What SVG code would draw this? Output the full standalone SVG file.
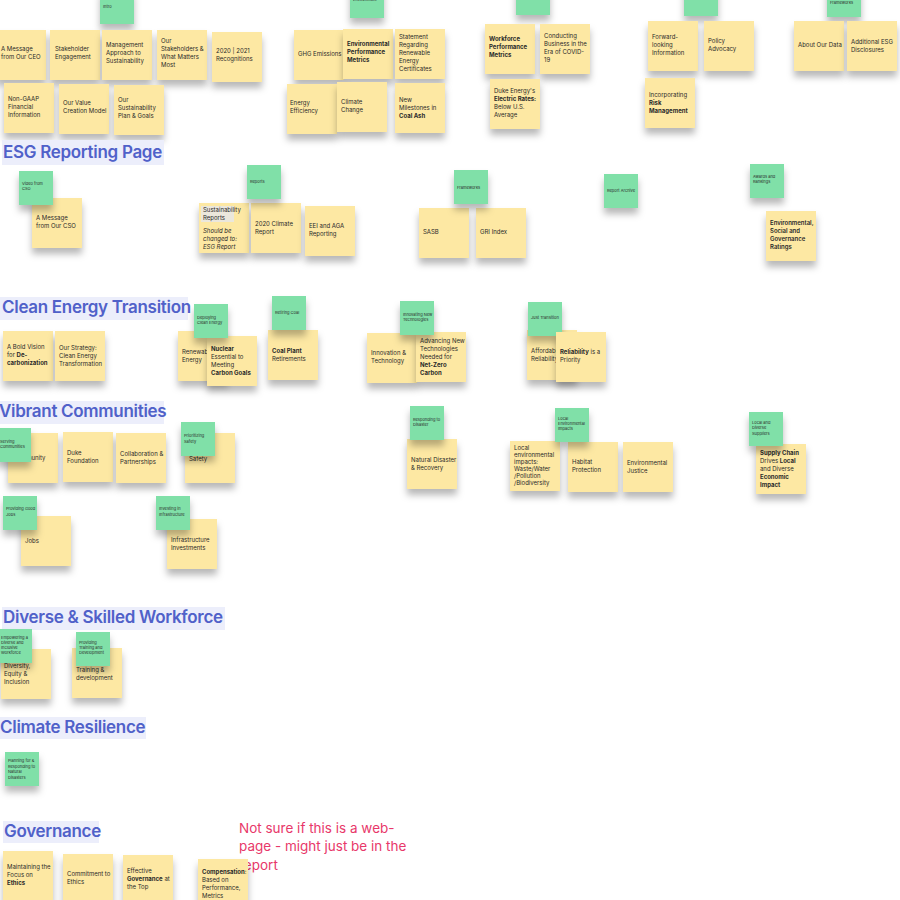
<svg xmlns="http://www.w3.org/2000/svg" width="900" height="900" viewBox="0 0 900 900">
<style>
.y{fill:#fde8a3;filter:url(#sh)}
.g{fill:#80e0a8;filter:url(#sh)}
.t{font-family:Inter,"Liberation Sans",sans-serif;font-size:6px;fill:#2a2a2a}
.s{font-family:Inter,"Liberation Sans",sans-serif;font-size:4px;fill:#2a2a2a}
.b{font-weight:700}
.i{font-style:italic}
.hb{fill:#eceefb}
.h{font-family:Inter,"Liberation Sans",sans-serif;font-size:17px;letter-spacing:-0.3px;font-weight:600;fill:#5061c9}
.r{font-family:Inter,"Liberation Sans",sans-serif;font-size:13.5px;fill:#e8386a}
</style>
<defs>
<filter id="sh" x="-30%" y="-30%" width="160%" height="180%">
<feDropShadow dx="0" dy="6" stdDeviation="3.5" flood-color="#000" flood-opacity="0.28"/>
</filter>
</defs>
<rect width="900" height="900" fill="#fff"/>

<!-- Top: Intro -->
<g id="g-intro" transform="translate(100,-10)"><rect class="g" width="34" height="34"/><text class="s" x="3" y="18">Intro</text></g>
<g id="n-ceo" transform="translate(-4,30)"><rect class="y" width="50" height="50"/><text class="t" x="5" y="21">A Message</text><text class="t" x="5" y="29">from Our CEO</text></g>
<g id="n-stake" transform="translate(50,30)"><rect class="y" width="50" height="50"/><text class="t" x="5" y="21">Stakeholder</text><text class="t" x="5" y="29">Engagement</text></g>
<g id="n-mgmt" transform="translate(102,30)"><rect class="y" width="50" height="50"/><text class="t" x="4" y="17">Management</text><text class="t" x="4" y="25">Approach to</text><text class="t" x="4" y="33">Sustainability</text></g>
<g id="n-ourstake" transform="translate(157,30)"><rect class="y" width="50" height="50"/><text class="t" x="4" y="13">Our</text><text class="t" x="4" y="21">Stakeholders &amp;</text><text class="t" x="4" y="29">What Matters</text><text class="t" x="4" y="37">Most</text></g>
<g id="n-recog" transform="translate(212,32)"><rect class="y" width="50" height="50"/><text class="t" x="4" y="21">2020 | 2021</text><text class="t" x="4" y="29">Recognitions</text></g>
<g id="n-nongaap" transform="translate(4,83)"><rect class="y" width="50" height="50"/><text class="t" x="4" y="18">Non-GAAP</text><text class="t" x="4" y="26">Financial</text><text class="t" x="4" y="34">Information</text></g>
<g id="n-value" transform="translate(59,84)"><rect class="y" width="50" height="50"/><text class="t" x="4" y="21">Our Value</text><text class="t" x="4" y="29">Creation Model</text></g>
<g id="n-plan" transform="translate(114,85)"><rect class="y" width="50" height="50"/><text class="t" x="4" y="17">Our</text><text class="t" x="4" y="25">Sustainability</text><text class="t" x="4" y="33">Plan &amp; Goals</text></g>

<!-- Top: Environment -->
<g id="g-env" transform="translate(350,-16)"><rect class="g" width="34" height="34"/><text class="s" x="3" y="17">Environment</text></g>
<g id="n-ghg" transform="translate(294,30)"><rect class="y" width="50" height="50"/><text class="t" x="4" y="26">GHG Emissions</text></g>
<g id="n-envperf" transform="translate(343,29)"><rect class="y" width="50" height="50"/><text class="t b" x="4" y="17">Environmental</text><text class="t b" x="4" y="25">Performance</text><text class="t b" x="4" y="33">Metrics</text></g>
<g id="n-statement" transform="translate(395,29)"><rect class="y" width="50" height="50"/><text class="t" x="4" y="10">Statement</text><text class="t" x="4" y="18">Regarding</text><text class="t" x="4" y="26">Renewable</text><text class="t" x="4" y="34">Energy</text><text class="t" x="4" y="42">Certificates</text></g>
<g id="n-effic" transform="translate(287,84)"><rect class="y" width="50" height="50"/><text class="t" x="3" y="21">Energy</text><text class="t" x="3" y="29">Efficiency</text></g>
<g id="n-climate" transform="translate(337,82)"><rect class="y" width="50" height="50"/><text class="t" x="4" y="22">Climate</text><text class="t" x="4" y="30">Change</text></g>
<g id="n-coalash" transform="translate(395,83)"><rect class="y" width="50" height="50"/><text class="t" x="4" y="19">New</text><text class="t" x="4" y="27">Milestones in</text><text class="t b" x="4" y="35">Coal Ash</text></g>

<!-- Top: Workforce -->
<g id="g-work" transform="translate(516,-16)"><rect class="g" width="34" height="31"/></g>
<g id="n-wfperf" transform="translate(485,24)"><rect class="y" width="50" height="50"/><text class="t b" x="4" y="17">Workforce</text><text class="t b" x="4" y="25">Performance</text><text class="t b" x="4" y="33">Metrics</text></g>
<g id="n-covid" transform="translate(540,24)"><rect class="y" width="50" height="50"/><text class="t" x="4" y="14">Conducting</text><text class="t" x="4" y="22">Business in the</text><text class="t" x="4" y="30">Era of COVID-</text><text class="t" x="4" y="38">19</text></g>
<g id="n-rates" transform="translate(490,79)"><rect class="y" width="50" height="50"/><text class="t" x="4" y="14">Duke Energy's</text><text class="t b" x="4" y="22">Electric Rates:</text><text class="t" x="4" y="30">Below U.S.</text><text class="t" x="4" y="38">Average</text></g>

<!-- Top: Governance/policy -->
<g id="g-gov" transform="translate(684,-16)"><rect class="g" width="34" height="32"/></g>
<g id="n-forward" transform="translate(648,21)"><rect class="y" width="50" height="50"/><text class="t" x="4" y="18">Forward-</text><text class="t" x="4" y="26">looking</text><text class="t" x="4" y="34">Information</text></g>
<g id="n-policy" transform="translate(704,21)"><rect class="y" width="50" height="50"/><text class="t" x="4" y="22">Policy</text><text class="t" x="4" y="30">Advocacy</text></g>
<g id="n-risk" transform="translate(645,78)"><rect class="y" width="50" height="50"/><text class="t" x="4" y="19">Incorporating</text><text class="t b" x="4" y="27">Risk</text><text class="t b" x="4" y="35">Management</text></g>

<!-- Top: Frameworks -->
<g id="g-frame-top" transform="translate(827,-16)"><rect class="g" width="34" height="33"/><text class="s" x="3" y="20">Frameworks</text></g>
<g id="n-aboutdata" transform="translate(794,21)"><rect class="y" width="50" height="50"/><text class="t" x="4" y="26">About Our Data</text></g>
<g id="n-addesg" transform="translate(847,21)"><rect class="y" width="50" height="50"/><text class="t" x="4" y="23">Additional ESG</text><text class="t" x="4" y="31">Disclosures</text></g>

<!-- Header: ESG Reporting Page -->
<g id="h-esg"><rect class="hb" x="2" y="140" width="162" height="25"/><text class="h" x="3" y="158">ESG Reporting Page</text></g>
<g id="n-cso" transform="translate(32,198)"><rect class="y" width="50" height="50"/><text class="t" x="4" y="22">A Message</text><text class="t" x="4" y="30">from Our CSO</text></g>
<g id="g-video" transform="translate(19,171)"><rect class="g" width="34" height="34"/><text class="s" x="3" y="14">Video from</text><text class="s" x="3" y="19">CSO</text></g>
<g id="n-sustrep" transform="translate(199,203)"><rect class="y" width="50" height="50"/><rect x="2" y="3" width="33" height="16" fill="#ebe7dc"/><text class="t" x="4" y="9">Sustainability</text><text class="t" x="4" y="17">Reports</text><text class="t i" x="4" y="30">Should be</text><text class="t i" x="4" y="38">changed to:</text><text class="t i" x="4" y="46">ESG Report</text></g>
<g id="n-climrep" transform="translate(251,203)"><rect class="y" width="50" height="50"/><text class="t" x="4" y="23">2020 Climate</text><text class="t" x="4" y="31">Report</text></g>
<g id="g-reports" transform="translate(247,165)"><rect class="g" width="34" height="34"/><text class="s" x="3" y="18">Reports</text></g>
<g id="n-eei" transform="translate(305,206)"><rect class="y" width="50" height="50"/><text class="t" x="4" y="22">EEI and AGA</text><text class="t" x="4" y="30">Reporting</text></g>
<g id="n-sasb" transform="translate(419,208)"><rect class="y" width="50" height="50"/><text class="t" x="4" y="26">SASB</text></g>
<g id="n-gri" transform="translate(476,208)"><rect class="y" width="50" height="50"/><text class="t" x="4" y="26">GRI Index</text></g>
<g id="g-frame" transform="translate(454,170)"><rect class="g" width="34" height="34"/><text class="s" x="3" y="19">Frameworks</text></g>
<g id="g-archive" transform="translate(604,174)"><rect class="g" width="34" height="34"/><text class="s" x="3" y="18">Report Archive</text></g>
<g id="g-awards" transform="translate(750,164)"><rect class="g" width="34" height="34"/><text class="s" x="3" y="14">Awards and</text><text class="s" x="3" y="19">Rankings</text></g>
<g id="n-ratings" transform="translate(766,211)"><rect class="y" width="50" height="50"/><text class="t" font-weight="600" x="4" y="14">Environmental,</text><text class="t" font-weight="600" x="4" y="22">Social and</text><text class="t" font-weight="600" x="4" y="30">Governance</text><text class="t" font-weight="600" x="4" y="38">Ratings</text></g>

<!-- Header: Clean Energy Transition -->
<g id="h-clean"><rect class="hb" x="0" y="297" width="188" height="23"/><text class="h" x="2" y="313">Clean Energy Transition</text></g>
<g id="n-vision" transform="translate(3,331)"><rect class="y" width="50" height="50"/><text class="t" x="4" y="18">A Bold Vision</text><text class="t" x="4" y="26">for <tspan class="b">De-</tspan></text><text class="t b" x="4" y="34">carbonization</text></g>
<g id="n-strategy" transform="translate(55,331)"><rect class="y" width="50" height="50"/><text class="t" x="4" y="19">Our Strategy:</text><text class="t" x="4" y="27">Clean Energy</text><text class="t" x="4" y="35">Transformation</text></g>
<g id="n-renew" transform="translate(178,331)"><rect class="y" width="50" height="50"/><text class="t" x="4" y="23">Renewable</text><text class="t" x="4" y="31">Energy</text></g>
<g id="n-nuclear" transform="translate(207,336)"><rect class="y" width="50" height="50"/><text class="t b" x="4" y="15">Nuclear</text><text class="t" x="4" y="23">Essential to</text><text class="t" x="4" y="31">Meeting</text><text class="t b" x="4" y="39">Carbon Goals</text></g>
<g id="g-deploy" transform="translate(194,304)"><rect class="g" width="34" height="34"/><text class="s" x="3" y="15">Deploying</text><text class="s" x="3" y="20">Clean Energy</text></g>
<g id="n-coalplant" transform="translate(268,330)"><rect class="y" width="50" height="50"/><text class="t b" x="4" y="23">Coal Plant</text><text class="t" x="4" y="31">Retirements</text></g>
<g id="g-retire" transform="translate(272,296)"><rect class="g" width="34" height="34"/><text class="s" x="3" y="18">Retiring Coal</text></g>
<g id="n-innov" transform="translate(367,333)"><rect class="y" width="50" height="50"/><text class="t" x="4" y="22">Innovation &amp;</text><text class="t" x="4" y="30">Technology</text></g>
<g id="n-advancing" transform="translate(416,332)"><rect class="y" width="50" height="50"/><text class="t" x="4" y="11">Advancing New</text><text class="t" x="4" y="19">Technologies</text><text class="t" x="4" y="27">Needed for</text><text class="t b" x="4" y="35">Net-Zero</text><text class="t b" x="4" y="43">Carbon</text></g>
<g id="g-innov" transform="translate(400,301)"><rect class="g" width="34" height="34"/><text class="s" x="3" y="15">Innovating New</text><text class="s" x="3" y="20">Technologies</text></g>
<g id="n-afford" transform="translate(527,330)"><rect class="y" width="50" height="50"/><text class="t" x="4" y="23">Affordability &amp;</text><text class="t" x="4" y="31">Reliability</text></g>
<g id="g-just" transform="translate(528,302)"><rect class="g" width="34" height="34"/><text class="s" x="3" y="17">Just Transition</text></g>
<g id="n-reliab" transform="translate(556,332)"><rect class="y" width="50" height="50"/><text class="t" x="4" y="22"><tspan class="b">Reliability</tspan> is a</text><text class="t" x="4" y="30">Priority</text></g>

<!-- Header: Vibrant Communities -->
<g id="h-vibrant"><rect class="hb" x="0" y="401" width="164" height="23"/><text class="h" x="-1" y="417">Vibrant Communities</text></g>
<g id="n-community" transform="translate(8,433)"><rect class="y" width="50" height="50"/><text class="t" x="5" y="27">Community</text></g>
<g id="g-serving" transform="translate(-3,428)"><rect class="g" width="34" height="34"/><text class="s" x="3" y="15">Serving</text><text class="s" x="3" y="20">Communities</text></g>
<g id="n-duke" transform="translate(63,432)"><rect class="y" width="50" height="50"/><text class="t" x="4" y="23">Duke</text><text class="t" x="4" y="31">Foundation</text></g>
<g id="n-collab" transform="translate(116,433)"><rect class="y" width="50" height="50"/><text class="t" x="4" y="23">Collaboration &amp;</text><text class="t" x="4" y="31">Partnerships</text></g>
<g id="n-safety" transform="translate(185,433)"><rect class="y" width="50" height="50"/><text class="t" x="4" y="28">Safety</text></g>
<g id="g-safety" transform="translate(181,422)"><rect class="g" width="34" height="34"/><text class="s" x="3" y="15">Prioritizing</text><text class="s" x="3" y="21">Safety</text></g>
<g id="n-jobs" transform="translate(21,516)"><rect class="y" width="50" height="50"/><text class="t" x="4" y="27">Jobs</text></g>
<g id="g-jobs" transform="translate(3,496)"><rect class="g" width="34" height="34"/><text class="s" x="3" y="14">Providing Good</text><text class="s" x="3" y="20">Jobs</text></g>
<g id="n-infra" transform="translate(167,519)"><rect class="y" width="50" height="50"/><text class="t" x="4" y="23">Infrastructure</text><text class="t" x="4" y="31">Investments</text></g>
<g id="g-infra" transform="translate(156,496)"><rect class="g" width="34" height="34"/><text class="s" x="3" y="14">Investing in</text><text class="s" x="3" y="20">Infrastructure</text></g>
<g id="n-natdis" transform="translate(407,439)"><rect class="y" width="50" height="50"/><text class="t" x="4" y="23">Natural Disaster</text><text class="t" x="4" y="31">&amp; Recovery</text></g>
<g id="g-respond" transform="translate(410,406)"><rect class="g" width="34" height="34"/><text class="s" x="3" y="15">Responding to</text><text class="s" x="3" y="20">Disaster</text></g>
<g id="n-localenv" transform="translate(510,441)"><rect class="y" width="50" height="50"/><text class="t" x="4" y="9">Local</text><text class="t" x="4" y="16">environmental</text><text class="t" x="4" y="23">impacts:</text><text class="t" x="4" y="30">Waste/Water</text><text class="t" x="4" y="37">/Pollution</text><text class="t" x="4" y="44">/Biodiversity</text></g>
<g id="n-habitat" transform="translate(568,442)"><rect class="y" width="50" height="50"/><text class="t" x="4" y="22">Habitat</text><text class="t" x="4" y="30">Protection</text></g>
<g id="g-localenv" transform="translate(555,408)"><rect class="g" width="34" height="34"/><text class="s" x="3" y="12">Local</text><text class="s" x="3" y="17">Environmental</text><text class="s" x="3" y="22">Impacts</text></g>
<g id="n-envjust" transform="translate(623,442)"><rect class="y" width="50" height="50"/><text class="t" x="4" y="23">Environmental</text><text class="t" x="4" y="31">Justice</text></g>
<g id="n-supply" transform="translate(756,444)"><rect class="y" width="50" height="50"/><text class="t b" x="4" y="11">Supply Chain</text><text class="t" x="4" y="19">Drives <tspan class="b">Local</tspan></text><text class="t" x="4" y="27">and Diverse</text><text class="t b" x="4" y="35">Economic</text><text class="t b" x="4" y="43">Impact</text></g>
<g id="g-suppliers" transform="translate(749,412)"><rect class="g" width="34" height="34"/><text class="s" x="3" y="12">Local and</text><text class="s" x="3" y="17">Diverse</text><text class="s" x="3" y="23">Suppliers</text></g>

<!-- Header: Diverse & Skilled Workforce -->
<g id="h-workforce"><rect class="hb" x="2" y="607" width="223" height="23"/><text class="h" x="3" y="623">Diverse &amp; Skilled Workforce</text></g>
<g id="n-dei" transform="translate(1,649)"><rect class="y" width="50" height="50"/><text class="t" x="3" y="19">Diversity,</text><text class="t" x="3" y="27">Equity &amp;</text><text class="t" x="3" y="35">Inclusion</text></g>
<g id="g-empower" transform="translate(-2,629)"><rect class="g" width="34" height="34"/><text class="s" x="3" y="10">Empowering a</text><text class="s" x="3" y="15">Diverse and</text><text class="s" x="3" y="20">Inclusive</text><text class="s" x="3" y="25">Workforce</text></g>
<g id="n-training" transform="translate(72,648)"><rect class="y" width="50" height="50"/><text class="t" x="4" y="24">Training &amp;</text><text class="t" x="4" y="32">development</text></g>
<g id="g-training" transform="translate(76,632)"><rect class="g" width="34" height="34"/><text class="s" x="3" y="12">Providing</text><text class="s" x="3" y="17">Training and</text><text class="s" x="3" y="22">Development</text></g>

<!-- Header: Climate Resilience -->
<g id="h-climate"><rect class="hb" x="0" y="717" width="146" height="22"/><text class="h" x="0" y="733">Climate Resilience</text></g>
<g id="g-planning" transform="translate(5,752)"><rect class="g" width="34" height="34"/><text class="s" x="3" y="10">Planning for &amp;</text><text class="s" x="3" y="15.5">Responding to</text><text class="s" x="3" y="21">Natural</text><text class="s" x="3" y="26.5">Disasters</text></g>

<!-- Header: Governance -->
<g id="h-governance"><rect class="hb" x="3" y="821" width="96" height="22"/><text class="h" x="4" y="837">Governance</text></g>
<g id="n-maintain" transform="translate(3,851)"><rect class="y" width="50" height="50"/><text class="t" x="4" y="18">Maintaining the</text><text class="t" x="4" y="26">Focus on</text><text class="t b" x="4" y="34">Ethics</text></g>
<g id="n-commit" transform="translate(63,854)"><rect class="y" width="50" height="50"/><text class="t" x="4" y="22">Commitment to</text><text class="t" x="4" y="30">Ethics</text></g>
<g id="n-effective" transform="translate(123,855)"><rect class="y" width="50" height="50"/><text class="t" x="4" y="18">Effective</text><text class="t" x="4" y="26"><tspan class="b">Governance</tspan> at</text><text class="t" x="4" y="34">the Top</text></g>
<g id="note-red"><text class="r" x="239" y="833">Not sure if this is a web-</text><text class="r" x="239" y="851">page - might just be in the</text><text class="r" x="239" y="870">report</text></g>
<g id="n-comp" transform="translate(198,859)"><rect class="y" width="50" height="50"/><text class="t" x="4" y="15"><tspan class="b">Compensation</tspan>:</text><text class="t" x="4" y="23">Based on</text><text class="t" x="4" y="31">Performance,</text><text class="t" x="4" y="39">Metrics</text></g>
</svg>
